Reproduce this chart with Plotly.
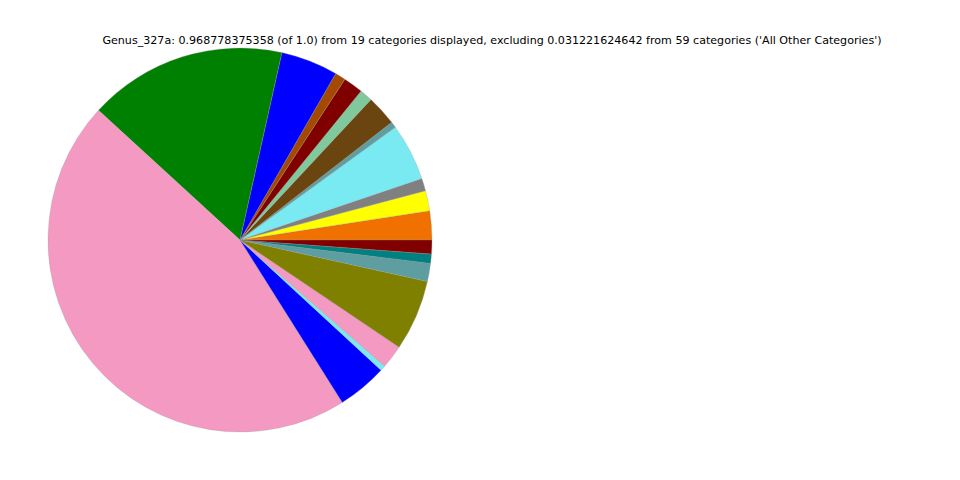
import plotly.graph_objects as go

# Categories in drawing order (counterclockwise from 3 o'clock)
categories = [f"Cat{i+1}" for i in range(19)]
# Angular spans (degrees), scaled to displayed total
spans_deg = [8.8, 6.1, 3.8, 17.3, 1.8, 9.2, 3.9, 6.0, 3.2, 17.3,
             60.1, 164.7, 15.1, 1.6, 7.1, 21.5, 5.5, 2.8, 4.2]
displayed_total = 0.968778375358
values = [s / 360.0 * displayed_total for s in spans_deg]
colors = ["#f07000", "#ffff00", "#808080", "#7aeaf2", "#5f9ea0", "#6b4510",
          "#80c99c", "#800000", "#a34a00", "#0000ff", "#008000", "#f49ac2",
          "#0000ff", "#7aeaf2", "#f49ac2", "#808000", "#5f9ea0", "#008080",
          "#800000"]

title_text = ("Genus_327a: 0.968778375358 (of 1.0) from 19 categories displayed, "
              "excluding 0.031221624642 from 59 categories ('All Other Categories')")

W, H = 960, 480
off = 8  # page body margin
cx, cy, r = 240 - off, 240 - off, 192

fig = go.Figure(go.Pie(
    labels=categories,
    values=values,
    sort=False,
    direction="counterclockwise",
    rotation=90 - spans_deg[0],
    textinfo="none",
    hoverinfo="label+value",
    marker=dict(colors=colors, line=dict(color="#999999", width=0.3)),
    domain=dict(x=[(cx - r) / W, (cx + r) / W],
                y=[1 - (cy + r) / H, 1 - (cy - r) / H]),
    showlegend=False,
))

fig.update_layout(
    width=W, height=H,
    margin=dict(l=0, r=0, t=0, b=0),
    paper_bgcolor="white", plot_bgcolor="white",
    font=dict(family="DejaVu Sans", size=11, color="black"),
    title=dict(text=title_text, x=(492 - off) / W, xanchor="center",
               y=1 - (40 - off) / H, yanchor="middle",
               font=dict(family="DejaVu Sans", size=11.1)),
)

fig.write_html("out.html")
